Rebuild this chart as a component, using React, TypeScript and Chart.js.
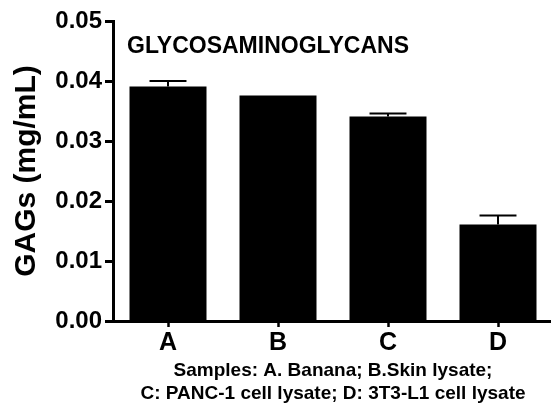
import React, { useEffect, useRef } from "react";
import { Chart, registerables } from "chart.js";

Chart.register(...registerables);

const categories = ["A", "B", "C", "D"];
const gagValues = [0.0391, 0.0376, 0.0341, 0.0161];
const gagErrors = [0.0009, 0, 0.0005, 0.0015];
const yTickValues = [0, 0.01, 0.02, 0.03, 0.04, 0.05];
const chartTitle = "GLYCOSAMINOGLYCANS";
const yTitle = "GAGs (mg/mL)";
const xTitle = [
  "Samples: A. Banana; B.Skin lysate;",
  "C: PANC-1 cell lysate; D: 3T3-L1 cell lysate",
];

const FONT = "'Liberation Sans', Arial, Helvetica, sans-serif";

const errorBarPlugin = {
  id: "errorBars",
  afterDatasetsDraw(chart: any) {
    const ctx = chart.ctx;
    const meta = chart.getDatasetMeta(0);
    const y = chart.scales.y;
    ctx.save();
    ctx.strokeStyle = "#000";
    ctx.lineWidth = 2;
    meta.data.forEach((bar: any, i: number) => {
      if (!gagErrors[i]) return;
      const x = bar.x;
      const top = y.getPixelForValue(gagValues[i] + gagErrors[i]);
      const base = y.getPixelForValue(gagValues[i]);
      const half = bar.width * 0.24;
      ctx.beginPath();
      ctx.moveTo(x, base);
      ctx.lineTo(x, top);
      ctx.moveTo(x - half, top);
      ctx.lineTo(x + half, top);
      ctx.stroke();
    });
    ctx.restore();
  },
};

const innerTitlePlugin = {
  id: "innerTitle",
  afterDraw(chart: any) {
    const ctx = chart.ctx;
    const area = chart.chartArea;
    ctx.save();
    ctx.fillStyle = "#000";
    ctx.font = `bold 23px ${FONT}`;
    ctx.textAlign = "left";
    ctx.textBaseline = "alphabetic";
    ctx.fillText(chartTitle, area.left + 14, area.top + 32);
    ctx.restore();
  },
};

export default function App() {
  const canvasRef = useRef<HTMLCanvasElement | null>(null);

  useEffect(() => {
    const canvas = canvasRef.current;
    if (!canvas) return;
    const chart = new Chart(canvas, {
      type: "bar",
      data: {
        labels: categories,
        datasets: [
          {
            data: gagValues,
            backgroundColor: "#000",
            borderWidth: 0,
            categoryPercentage: 1,
            barPercentage: 0.7,
          },
        ],
      },
      options: {
        animation: false,
        responsive: false,
        devicePixelRatio: 1,
        layout: { padding: { top: 21, right: 3, bottom: 0, left: 0 } },
        plugins: {
          legend: { display: false },
          tooltip: { enabled: false },
          title: { display: false },
        },
        scales: {
          x: {
            offset: true,
            grid: {
              display: true,
              drawOnChartArea: false,
              drawTicks: true,
              tickLength: 6,
              tickWidth: 2.5,
              tickColor: "#000",
              offset: false,
            },
            border: { display: true, color: "#000", width: 3 },
            ticks: {
              color: "#000",
              font: { family: FONT, size: 25, weight: "bold", lineHeight: "26px" },
              padding: 3,
              maxRotation: 0,
              autoSkip: false,
            },
            title: {
              display: true,
              text: xTitle,
              color: "#000",
              font: { family: FONT, size: 19, weight: "bold", lineHeight: "23px" },
              padding: { top: 0, bottom: 3 },
            },
          },
          y: {
            min: 0,
            max: 0.05,
            afterBuildTicks(scale: any) {
              scale.ticks = yTickValues.map((v) => ({ value: v }));
            },
            afterFit(scale: any) {
              scale.width = 113;
            },
            grid: {
              display: true,
              drawOnChartArea: false,
              drawTicks: true,
              tickLength: 8,
              tickWidth: 3,
              tickColor: "#000",
            },
            border: { display: true, color: "#000", width: 3 },
            ticks: {
              color: "#000",
              font: { family: FONT, size: 24, weight: "bold" },
              padding: 3,
              callback: (v: any) => Number(v).toFixed(2),
            },
            title: {
              display: true,
              text: yTitle,
              color: "#000",
              font: { family: FONT, size: 30, weight: "bold" },
              padding: { top: 9, bottom: 0 },
            },
          },
        },
      },
      plugins: [errorBarPlugin, innerTitlePlugin],
    } as any);
    return () => chart.destroy();
  }, []);

  return (
    <div
      style={{
        position: "fixed",
        left: 0,
        top: 0,
        width: 551,
        height: 408,
        overflow: "hidden",
        background: "#fff",
      }}
    >
      <canvas ref={canvasRef} width={556} height={408} style={{ display: "block" }} />
    </div>
  );
}
